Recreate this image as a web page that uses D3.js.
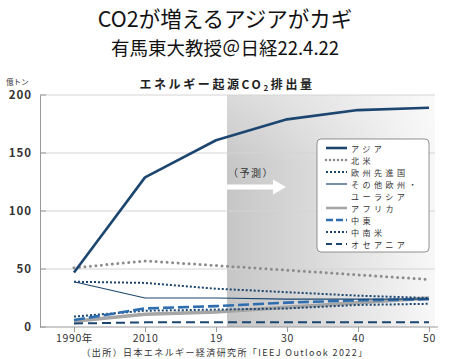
<!DOCTYPE html>
<html><head><meta charset="utf-8">
<script src="https://cdn.jsdelivr.net/npm/d3@7"></script>
<style>body{margin:0;background:#fff}svg{display:block}text{font-family:"Noto Sans CJK JP","Noto Sans",sans-serif}</style>
</head><body>
<svg id="c" width="450" height="359"></svg>
<script>
const years = ["1990年","2010","19","30","40","50"];
const yTicks = [0,50,100,150,200];
const asia = [47,129,161,179,187,189];
const northAmerica = [51,57,53,49,45,41];
const europeAdv = [39,38,33,30,27,25];
const otherEurasia = [39,25,25,24,24,24];
const africa = [5,11,13,17,21,25];
const middleEast = [6,16,18,21,23,24];
const latinAmerica = [9,14,15,16,19,20];
const oceania = [3,4,4,4,4,4];
const seriesNames = ["アジア","北米","欧州先進国","その他欧州・\nユーラシア","アフリカ","中東","中南米","オセアニア"];

const styles = [
  {c:"#1c4670",w:2.6,d:null,cap:"butt"},
  {c:"#8c8c8c",w:3,d:"0 5.5",cap:"round"},
  {c:"#1c4670",w:2,d:"2 2",cap:"butt"},
  {c:"#1c4670",w:1.2,d:null,cap:"butt"},
  {c:"#a6a6a6",w:3.5,d:null,cap:"butt"},
  {c:"#2d6db0",w:2.6,d:"11 4",cap:"butt"},
  {c:"#1c4670",w:2,d:"2 2",cap:"butt"},
  {c:"#1c4670",w:2,d:"9 5",cap:"butt"}
];
const data = [asia,northAmerica,europeAdv,otherEurasia,africa,middleEast,latinAmerica,oceania];

const svg = d3.select("#c");
const x = d3.scalePoint().domain(years).range([74,429]);
const y = d3.scaleLinear().domain([0,200]).range([327,95]);

// titles
svg.append("text").attr("x",225).attr("y",27).attr("text-anchor","middle").attr("font-size",21.5).attr("fill","#111").text("CO2が増えるアジアがカギ");
svg.append("text").attr("x",225).attr("y",55).attr("text-anchor","middle").attr("font-size",18.5).attr("fill","#111").text("有馬東大教授＠日経22.4.22");

// chart title
const ct = svg.append("text").attr("x",227).attr("y",89).attr("text-anchor","middle").attr("font-size",12).attr("letter-spacing",2.6).attr("font-weight","bold").attr("fill","#222");
ct.append("tspan").text("エネルギー起源CO");
ct.append("tspan").attr("font-size",8).attr("dy",2).text("2");
ct.append("tspan").attr("dy",-2).text("排出量");

svg.append("text").attr("x",6).attr("y",85).attr("font-size",7.5).attr("fill","#333").text("億トン");

// shading
const defs = svg.append("defs");
const g = defs.append("linearGradient").attr("id","sh").attr("x1","0").attr("x2","1").attr("y1","0").attr("y2","0");
g.append("stop").attr("offset","0").attr("stop-color","#c6c6c6");
g.append("stop").attr("offset","0.5").attr("stop-color","#dedede");
g.append("stop").attr("offset","1").attr("stop-color","#f8f8f8");
const gv = defs.append("linearGradient").attr("id","shv").attr("x1","0").attr("x2","0").attr("y1","0").attr("y2","1");
gv.append("stop").attr("offset","0").attr("stop-color","#fff").attr("stop-opacity",0.35);
gv.append("stop").attr("offset","0.3").attr("stop-color","#fff").attr("stop-opacity",0);
svg.append("rect").attr("x",227).attr("y",y(200)).attr("width",435-227).attr("height",y(0)-y(200)).attr("fill","url(#sh)");
svg.append("rect").attr("x",227).attr("y",y(200)).attr("width",435-227).attr("height",y(0)-y(200)).attr("fill","url(#shv)");

// gridlines
svg.append("g").selectAll("line").data(yTicks.filter(d=>d>0)).join("line")
  .attr("x1",40).attr("x2",435).attr("y1",d=>y(d)).attr("y2",d=>y(d))
  .attr("stroke","#d4d4d4").attr("stroke-width",1);

// y axis
const ya = svg.append("g").attr("transform","translate(40,0)").call(d3.axisLeft(y).tickValues(yTicks).tickSize(0).tickPadding(8));
ya.select(".domain").attr("stroke","#999");
ya.selectAll("text").attr("font-size",11.5).attr("letter-spacing",1).attr("font-weight","bold").attr("fill","#333").attr("font-family","Liberation Sans, Arial, sans-serif");
svg.append("g").selectAll("line").data(yTicks).join("line").attr("x1",40).attr("x2",46).attr("y1",d=>y(d)).attr("y2",d=>y(d)).attr("stroke","#999");

// x axis
const xa = svg.append("g").attr("transform","translate(0,327)").call(d3.axisBottom(x).tickSize(5).tickPadding(3));
xa.select(".domain").attr("d","M40,0H438").attr("stroke","#999");
xa.selectAll(".tick line").attr("stroke","#999");
xa.selectAll("text").attr("font-size",10.5).attr("letter-spacing",0.6).attr("fill","#333").attr("font-family","Liberation Sans, Noto Sans CJK JP, sans-serif");

// forecast arrow
svg.append("text").attr("x",251).attr("y",177).attr("text-anchor","middle").attr("font-size",10).attr("letter-spacing",1.5).attr("fill","#333").text("（予測）");
svg.append("path").attr("d","M227,184.5H273V179.5L286,187L273,194.5V189.5H227Z").attr("fill","#fff");

// lines
const line = d3.line().x((d,i)=>x(years[i])).y(d=>y(d));
const order = [4,7,6,5,3,2,1,0];
svg.append("g").selectAll("path").data(order).join("path")
  .attr("d",i=>line(data[i])).attr("fill","none")
  .attr("stroke",i=>styles[i].c).attr("stroke-width",i=>styles[i].w)
  .attr("stroke-dasharray",i=>styles[i].d).attr("stroke-linecap",i=>styles[i].cap)
  .attr("stroke-linejoin","round");

// legend
const lg = svg.append("g");
lg.append("rect").attr("x",317).attr("y",139).attr("width",112).attr("height",113).attr("rx",4)
  .attr("fill","#fff").attr("stroke","#777").attr("stroke-width",0.8);
const rowsY = [148,160,172,184,208,220,232,244];
seriesNames.forEach((n,i)=>{
  const yy = rowsY[i];
  const s = styles[i];
  lg.append("line").attr("x1",326).attr("x2",347).attr("y1",yy).attr("y2",yy)
    .attr("stroke",s.c).attr("stroke-width",Math.min(s.w,2.6)).attr("stroke-dasharray",s.d==="0 5.5"?"0 4":(s.d==="11 4"?"7 3":(s.d==="9 5"?"6 4":s.d)))
    .attr("stroke-linecap",s.cap);
  const parts = n.split("\n");
  parts.forEach((p,k)=>{
    lg.append("text").attr("x",351).attr("y",yy+3.5+k*12).attr("font-size",8.1)
      .attr("letter-spacing",3.4).attr("fill","#333").text(p);
  });
});

// source
svg.append("text").attr("x",225).attr("y",356).attr("text-anchor","middle").attr("font-size",9).attr("letter-spacing",1.4).attr("fill","#333").text("（出所）日本エネルギー経済研究所「IEEJ Outlook 2022」");
</script>
</body></html>
